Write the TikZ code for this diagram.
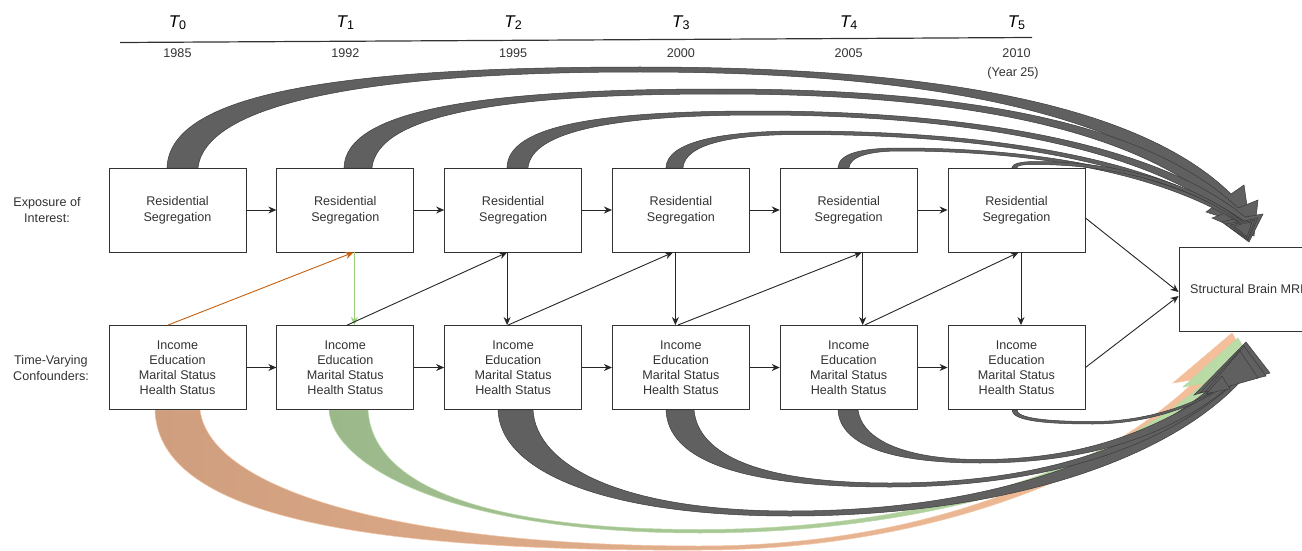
\documentclass[tikz,border=0pt]{standalone}
\usepackage{fontspec}
\setmainfont{Liberation Sans}
\usetikzlibrary{calc,arrows.meta}
\definecolor{txt}{HTML}{333333}
\definecolor{boxln}{HTML}{333333}
\definecolor{darkfill}{HTML}{606060}
\definecolor{darkline}{HTML}{3C3C3C}
\definecolor{orgA}{HTML}{CF9E7E}
\definecolor{orgB}{HTML}{F5C09B}
\definecolor{orgL}{HTML}{F3C4A2}
\definecolor{grnA}{HTML}{9BB88A}
\definecolor{grnB}{HTML}{BCDDA8}
\definecolor{grnL}{HTML}{B7D9A3}
\definecolor{orangeln}{HTML}{C8600E}
\definecolor{greenln}{HTML}{97D077}
\pgfdeclarelayer{bg}
\pgfsetlayers{bg,main}
% fat curved arrow: #1 style, #2 outer edge path (ending with ..), #3 outer neck, #4 outer wing, #5 tip, #6 inner wing, #7 inner neck, #8 inner edge path
\newcommand\fatarr[8]{\path[#1] #2 (#3) -- (#4) -- (#5) -- (#6) -- (#7) #8 -- cycle;}
\tikzset{
  box/.style={draw=boxln, fill=white, line width=0.9pt, minimum width=137pt, minimum height=84pt, inner sep=0pt, align=center, text=txt},
  toptext/.style={font=\fontsize{12.6}{16}\selectfont},
  bottext/.style={font=\fontsize{12.6}{15}\selectfont},
  conn/.style={draw=black!85, line width=0.9pt, -{Stealth[length=8pt,width=7pt]}},
  lbl/.style={align=center, text=txt, font=\fontsize{12.6}{16}\selectfont},
  yr/.style={anchor=base, text=txt, font=\fontsize{12.6}{15}\selectfont},
  tl/.style={anchor=base, text=black},
  darkarr/.style={fill=darkfill, draw=darkline, line width=0.5pt},
  orgarr/.style={left color=orgA, right color=orgB, draw=orgL, line width=0.5pt},
  grnarr/.style={left color=grnA, right color=grnB, draw=grnL, line width=0.5pt},
}
\newcommand\Tl[1]{{\fontsize{17}{17}\selectfont\itshape T}\raisebox{-1.5pt}{\fontsize{12.5}{12.5}\selectfont #1}}
\begin{document}
\begin{tikzpicture}[x=1pt,y=-1pt]
\useasboundingbox (0,0) rectangle (1302,551);
\begin{pgfonlayer}{bg}
\fill[white] (0,0) rectangle (1302,551);
\end{pgfonlayer}

% header
\draw[line width=1.2pt, draw=boxln] (120,42.5) -- (1032,37.5);
\node[tl] (T0) at (177.5,28) {\Tl{0}};
\node[tl] (T1) at (345.3,28) {\Tl{1}};
\node[tl] (T2) at (513.1,28) {\Tl{2}};
\node[tl] (T3) at (680.9,28) {\Tl{3}};
\node[tl] (T4) at (848.7,28) {\Tl{4}};
\node[tl] (T5) at (1016.5,28) {\Tl{5}};
\node[yr] (y0) at (177.5,57.5) {1985};
\node[yr] (y1) at (345.3,57.5) {1992};
\node[yr] (y2) at (513.1,57.5) {1995};
\node[yr] (y3) at (680.9,57.5) {2000};
\node[yr] (y4) at (848.7,57.5) {2005};
\node[yr] (y5) at (1016.5,57.5) {2010};
\node[yr] (y25) at (1013,77) {(Year 25)};

% row labels
\node[lbl] (lab1) at (47,210) {Exposure of\\Interest:};
\node[lbl] (lab2) at (51,367.5) {Time-Varying\\Confounders:};

% boxes
\foreach \i/\x in {1/177.5,2/345.3,3/513.1,4/680.9,5/848.7,6/1016.5}{
  \node[box,toptext] (t\i) at (\x,210) {Residential\\Segregation};
  \node[box,bottext] (b\i) at (\x,367.5) {Income\\Education\\Marital Status\\Health Status};
}
\begin{scope}
\clip (0,0) rectangle (1302,551);
\node[box,toptext,minimum width=140pt] (mri) at (1249,289) {};
\node[toptext,text=txt,anchor=west,inner sep=0pt] (mritext) at (1190,289) {Structural Brain MRI};
\end{scope}

% arrow-head points of the fat arrows (named coordinates)
\coordinate (tipA1) at (1250,226);
\coordinate (tipA2) at (1254,236);
\coordinate (tipA3) at (1249,242);
\coordinate (tipA4) at (1248,240);
\coordinate (tipA5) at (1248,239);
\coordinate (tipA6) at (1247,237);
\coordinate (tipB1) at (1232,333);
\coordinate (tipB2) at (1238,338);
\coordinate (tipB3) at (1246,342);
\coordinate (tipB4) at (1244,346);
\coordinate (tipB5) at (1240,351);
\coordinate (tipB6) at (1222,376);

\begin{pgfonlayer}{bg}
% top: exposure -> MRI
\fatarr{darkarr}{([xshift=-10.5pt]t1.north) .. controls (170,95) and (330,67) .. (640,67) .. controls (900,67) and (1130,95) ..}{1231,194}{1244,185}{tipA1}{1206,212}{1220,202}{.. controls (1115,105) and (900,72) .. (640,72) .. controls (360,72) and (206,105) .. ([xshift=20.5pt]t1.north)}
\fatarr{darkarr}{([xshift=-1.3pt]t2.north) .. controls (346,110) and (480,89) .. (720,89) .. controls (940,89) and (1140,115) ..}{1238,208}{1258,200}{tipA2}{1212,218}{1228,212}{.. controls (1130,122) and (940,94) .. (720,94) .. controls (500,94) and (378,115) .. ([xshift=26.7pt]t2.north)}
\fatarr{darkarr}{([xshift=-6.1pt]t3.north) .. controls (508,125) and (600,111) .. (760,111) .. controls (950,111) and (1150,138) ..}{1245,217}{1263,214}{tipA3}{1222,222}{1234,219}{.. controls (1140,143) and (950,115) .. (760,115) .. controls (620,115) and (532,130) .. ([xshift=14.9pt]t3.north)}
\fatarr{darkarr}{([xshift=-14.9pt]t4.north) .. controls (667,142) and (720,131) .. (800,131) .. controls (980,131) and (1150,155) ..}{1244,221}{1258,218}{tipA4}{1225,224}{1238,222}{.. controls (1145,159) and (980,134.5) .. (800,134.5) .. controls (728,134.5) and (685,145) .. ([xshift=2.1pt]t4.north)}
\fatarr{darkarr}{([xshift=-10.7pt]t5.north) .. controls (839,153) and (862,148) .. (900,148) .. controls (1030,148) and (1160,168) ..}{1245,222}{1255,220}{tipA5}{1230,225}{1240,223}{.. controls (1156,171) and (1030,151) .. (900,151) .. controls (868,151) and (850,157) .. ([xshift=0.3pt]t5.north)}
\fatarr{darkarr}{([xshift=-4.5pt]t6.north) .. controls (1012,164) and (1020,161.5) .. (1035,161.5) .. controls (1120,161.5) and (1200,185) ..}{1244,223.5}{1252,222}{tipA6}{1234,226}{1242,224}{.. controls (1198,188) and (1120,164.5) .. (1035,164.5) .. controls (1024,164.5) and (1017,165) .. ([xshift=0.5pt]t6.north)}

% bottom: confounders -> MRI
\fatarr{orgarr}{([xshift=-22.5pt]b1.south) .. controls (158,505) and (320,552) .. (700,550) .. controls (950,550) and (1140,460) ..}{1216,375}{1252,368}{tipB1}{1173,383}{1197,379}{.. controls (1120,455) and (950,546) .. (700,546) .. controls (400,546) and (210,490) .. ([xshift=22.5pt]b1.south)}
\fatarr{grnarr}{([xshift=-16.3pt]b2.south) .. controls (332,465) and (450,533) .. (700,533) .. controls (950,533) and (1145,460) ..}{1222,380}{1258,372}{tipB2}{1183,387}{1204,383}{.. controls (1125,455) and (950,529.5) .. (700,529.5) .. controls (470,529.5) and (372,480) .. ([xshift=22.7pt]b2.south)}
\fatarr{darkarr}{([xshift=-15.1pt]b3.south) .. controls (500,470) and (600,516) .. (790,516) .. controls (1000,516) and (1165,462) ..}{1240,382}{1270,373}{tipB3}{1194,395}{1207,391}{.. controls (1130,452) and (1000,511) .. (790,511) .. controls (620,511) and (536,465) .. ([xshift=19.9pt]b3.south)}
\fatarr{darkarr}{([xshift=-14.9pt]b4.south) .. controls (668,460) and (740,487) .. (890,487) .. controls (1040,487) and (1160,450) ..}{1233,384}{1266,376}{tipB4}{1200,393}{1215,389}{.. controls (1140,447) and (1040,483) .. (890,483) .. controls (760,483) and (698,455) .. ([xshift=13.1pt]b4.south)}
\fatarr{darkarr}{([xshift=-10.7pt]b5.south) .. controls (840,445) and (890,463) .. (980,463) .. controls (1080,463) and (1165,440) ..}{1230,386}{1258,378}{tipB5}{1205,392}{1217,389}{.. controls (1150,433) and (1080,459.5) .. (980,459.5) .. controls (905,459.5) and (862,440) .. ([xshift=9.3pt]b5.south)}
\fatarr{darkarr}{([xshift=-4.5pt]b6.south) .. controls (1012,420) and (1040,424) .. (1093,424) .. controls (1150,424) and (1195,405) ..}{1216,391.5}{1230,389}{tipB6}{1206,394}{1213,392}{.. controls (1192,403) and (1150,421.5) .. (1093,421.5) .. controls (1045,421.5) and (1017,418) .. ([xshift=0.5pt]b6.south)}
\end{pgfonlayer}

% horizontal arrows
\foreach \i/\j in {1/2,2/3,3/4,4/5,5/6}{
  \draw[conn] (t\i) -- (t\j);
  \draw[conn] (b\i) -- (b\j);
}
% cross arrows
\draw[conn, draw=orangeln] ([xshift=-9.5pt]b1.north) -- ([xshift=8pt]t2.south);
\draw[conn, draw=greenln] ([xshift=9pt]t2.south) -- ([xshift=9pt]b2.north);
\draw[conn] ([xshift=2pt]b2.north) -- ([xshift=-6pt]t3.south);
\draw[conn] ([xshift=-6pt]t3.south) -- ([xshift=-6pt]b3.north);
\draw[conn] ([xshift=-5pt]b3.north) -- ([xshift=-8pt]t4.south);
\draw[conn] ([xshift=-5.5pt]t4.south) -- ([xshift=-5.5pt]b4.north);
\draw[conn] ([xshift=-3pt]b4.north) -- ([xshift=13pt]t5.south);
\draw[conn] ([xshift=14pt]t5.south) -- ([xshift=14pt]b5.north);
\draw[conn] ([xshift=16pt]b5.north) -- ([xshift=2pt]t6.south);
\draw[conn] ([xshift=4.5pt]t6.south) -- ([xshift=4.5pt]b6.north);
% to MRI
\draw[conn] ([yshift=-8pt]t6.east) -- ([yshift=-3pt]mri.west);
\draw[conn] (b6.east) -- ([yshift=-7pt]mri.west);
\end{tikzpicture}
\end{document}
